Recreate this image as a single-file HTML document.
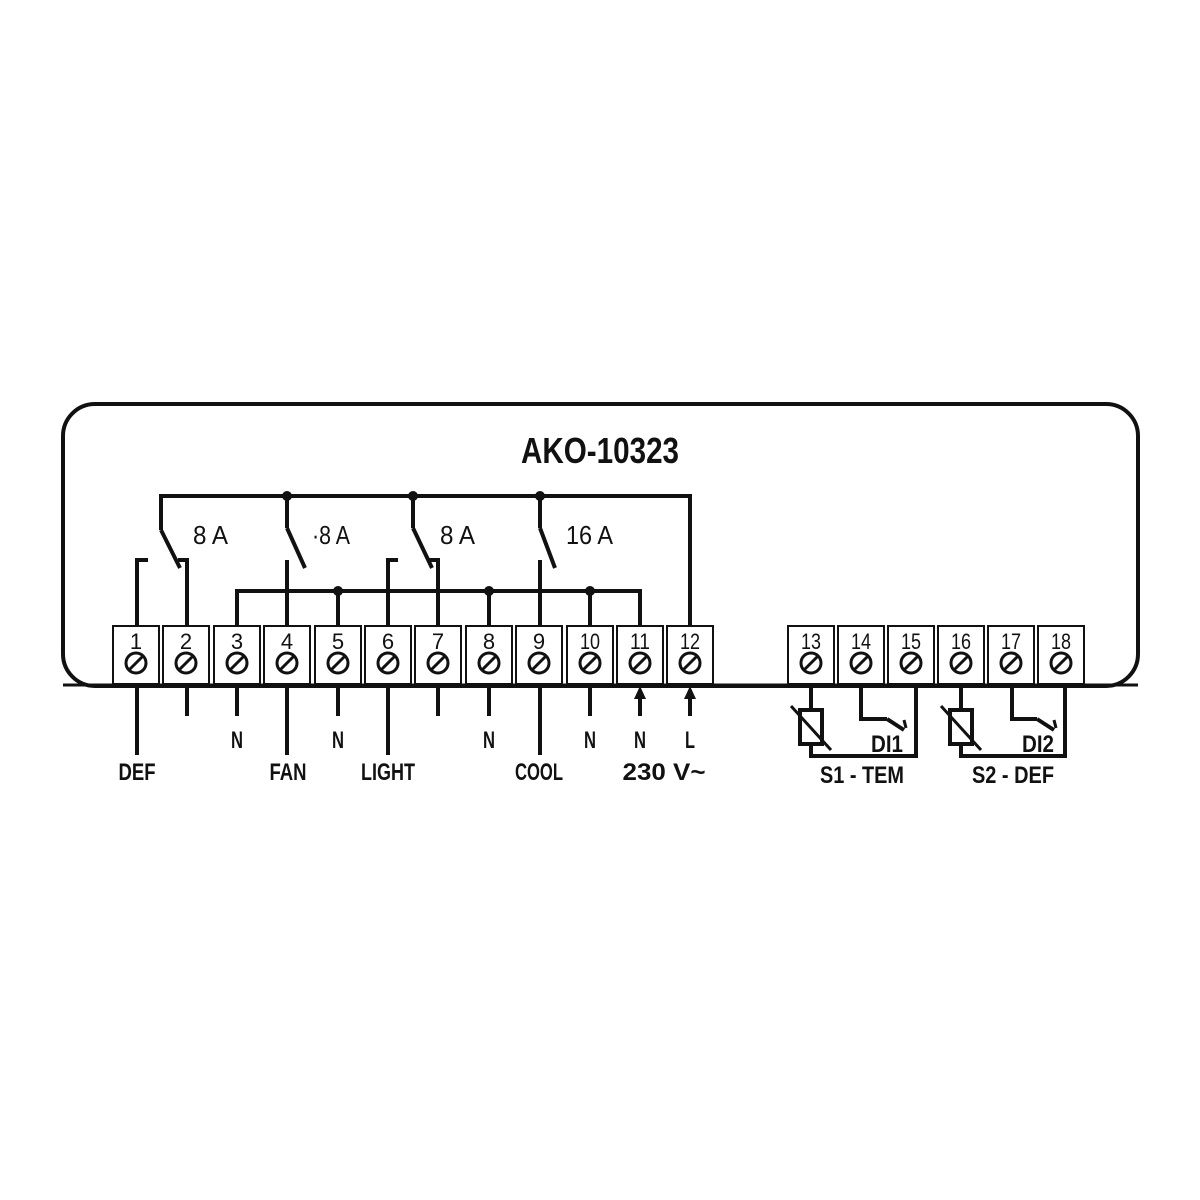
<!DOCTYPE html>
<html><head><style>body{margin:0;background:#fff}svg{display:block}
text{font-family:"Liberation Sans Narrow","Liberation Sans",sans-serif;font-weight:bold;fill:#111}
.t{font-weight:normal}
</style></head><body>
<svg width="1200" height="1200" viewBox="0 0 1200 1200" xmlns="http://www.w3.org/2000/svg">
<g stroke="#111" fill="none" stroke-width="4">
<rect x="63" y="404" width="1075" height="282" rx="32"/>
</g>
<text x="600" y="463" font-size="36" text-anchor="middle" textLength="158" lengthAdjust="spacingAndGlyphs">AKO-10323</text>
<g stroke="#111" stroke-width="2" fill="#fff">
<rect x="113" y="626" width="46" height="58"/><rect x="163" y="626" width="46" height="58"/><rect x="214" y="626" width="46" height="58"/><rect x="264" y="626" width="46" height="58"/><rect x="315" y="626" width="46" height="58"/><rect x="365" y="626" width="46" height="58"/><rect x="415" y="626" width="46" height="58"/><rect x="466" y="626" width="46" height="58"/><rect x="516" y="626" width="46" height="58"/><rect x="567" y="626" width="46" height="58"/><rect x="617" y="626" width="46" height="58"/><rect x="667" y="626" width="46" height="58"/>
<rect x="788" y="626" width="46" height="58"/><rect x="838" y="626" width="46" height="58"/><rect x="888" y="626" width="46" height="58"/><rect x="938" y="626" width="46" height="58"/><rect x="988" y="626" width="46" height="58"/><rect x="1038" y="626" width="46" height="58"/>
</g>
<g stroke="#111" stroke-width="3" fill="none">
<line x1="63" y1="685" x2="1138" y2="685"/>
</g>
<g stroke="#111" stroke-width="3" fill="none">
<circle cx="136" cy="663" r="10"/><line x1="129" y1="670" x2="143" y2="656"/>
<circle cx="186" cy="663" r="10"/><line x1="179" y1="670" x2="193" y2="656"/>
<circle cx="237" cy="663" r="10"/><line x1="230" y1="670" x2="244" y2="656"/>
<circle cx="287" cy="663" r="10"/><line x1="280" y1="670" x2="294" y2="656"/>
<circle cx="338" cy="663" r="10"/><line x1="331" y1="670" x2="345" y2="656"/>
<circle cx="388" cy="663" r="10"/><line x1="381" y1="670" x2="395" y2="656"/>
<circle cx="438" cy="663" r="10"/><line x1="431" y1="670" x2="445" y2="656"/>
<circle cx="489" cy="663" r="10"/><line x1="482" y1="670" x2="496" y2="656"/>
<circle cx="539" cy="663" r="10"/><line x1="532" y1="670" x2="546" y2="656"/>
<circle cx="590" cy="663" r="10"/><line x1="583" y1="670" x2="597" y2="656"/>
<circle cx="640" cy="663" r="10"/><line x1="633" y1="670" x2="647" y2="656"/>
<circle cx="690" cy="663" r="10"/><line x1="683" y1="670" x2="697" y2="656"/>
<circle cx="811" cy="663" r="10"/><line x1="804" y1="670" x2="818" y2="656"/>
<circle cx="861" cy="663" r="10"/><line x1="854" y1="670" x2="868" y2="656"/>
<circle cx="911" cy="663" r="10"/><line x1="904" y1="670" x2="918" y2="656"/>
<circle cx="961" cy="663" r="10"/><line x1="954" y1="670" x2="968" y2="656"/>
<circle cx="1011" cy="663" r="10"/><line x1="1004" y1="670" x2="1018" y2="656"/>
<circle cx="1061" cy="663" r="10"/><line x1="1054" y1="670" x2="1068" y2="656"/>
</g>
<g font-size="22" text-anchor="middle">
<text x="136" y="649" class="t">1</text><text x="186" y="649" class="t">2</text><text x="237" y="649" class="t">3</text><text x="287" y="649" class="t">4</text><text x="338" y="649" class="t">5</text><text x="388" y="649" class="t">6</text><text x="438" y="649" class="t">7</text><text x="489" y="649" class="t">8</text><text x="539" y="649" class="t">9</text>
<text x="590" y="649" class="t" textLength="20" lengthAdjust="spacingAndGlyphs">10</text><text x="640" y="649" class="t" textLength="20" lengthAdjust="spacingAndGlyphs">11</text><text x="690" y="649" class="t" textLength="20" lengthAdjust="spacingAndGlyphs">12</text>
<text x="811" y="649" class="t" textLength="20" lengthAdjust="spacingAndGlyphs">13</text><text x="861" y="649" class="t" textLength="20" lengthAdjust="spacingAndGlyphs">14</text><text x="911" y="649" class="t" textLength="20" lengthAdjust="spacingAndGlyphs">15</text><text x="961" y="649" class="t" textLength="20" lengthAdjust="spacingAndGlyphs">16</text><text x="1011" y="649" class="t" textLength="20" lengthAdjust="spacingAndGlyphs">17</text><text x="1061" y="649" class="t" textLength="20" lengthAdjust="spacingAndGlyphs">18</text>
</g>
<g stroke="#111" stroke-width="4" fill="none">
<polyline points="161,530 161,496 690,496 690,626"/>
<line x1="161" y1="530" x2="180" y2="568"/>
<line x1="287" y1="496" x2="287" y2="528"/><line x1="287" y1="528" x2="305" y2="568"/>
<line x1="413" y1="496" x2="413" y2="528"/><line x1="413" y1="528" x2="432" y2="568"/>
<line x1="540" y1="496" x2="540" y2="528"/><line x1="540" y1="528" x2="555" y2="568"/>
<polyline points="148,560 137,560 137,626"/>
<polyline points="178,560 187,560 187,626"/>
<line x1="287" y1="560" x2="287" y2="626"/>
<polyline points="398,560 388,560 388,626"/>
<polyline points="428,560 438,560 438,626"/>
<line x1="540" y1="560" x2="540" y2="626"/>
<polyline points="237,626 237,591 640,591 640,626"/>
<line x1="338" y1="591" x2="338" y2="626"/>
<line x1="489" y1="591" x2="489" y2="626"/>
<line x1="590" y1="591" x2="590" y2="626"/>
<line x1="137" y1="686" x2="137" y2="755"/>
<line x1="187" y1="686" x2="187" y2="716"/>
<line x1="237" y1="686" x2="237" y2="716"/>
<line x1="287" y1="686" x2="287" y2="755"/>
<line x1="338" y1="686" x2="338" y2="716"/>
<line x1="388" y1="686" x2="388" y2="755"/>
<line x1="438" y1="686" x2="438" y2="716"/>
<line x1="489" y1="686" x2="489" y2="716"/>
<line x1="540" y1="686" x2="540" y2="755"/>
<line x1="590" y1="686" x2="590" y2="716"/>
<line x1="640" y1="696" x2="640" y2="716"/>
<line x1="690" y1="696" x2="690" y2="716"/>
<line x1="811" y1="686" x2="811" y2="710"/>
<rect x="800" y="710" width="22" height="34"/>
<polyline points="811,744 811,756 916,756 916,686"/>
<polyline points="861,686 861,719 887,719"/>
<line x1="887" y1="719" x2="904" y2="730"/>
<line x1="961" y1="686" x2="961" y2="710"/>
<rect x="950" y="710" width="22" height="34"/>
<polyline points="961,744 961,756 1065,756 1065,686"/>
<polyline points="1012,686 1012,719 1037,719"/>
<line x1="1037" y1="719" x2="1054" y2="730"/>
</g>
<g stroke="#111" stroke-width="3">
<line x1="791" y1="706" x2="831" y2="750"/>
<line x1="941" y1="706" x2="981" y2="750"/>
<line x1="904" y1="720" x2="906" y2="728"/>
<line x1="1054" y1="720" x2="1056" y2="728"/>
</g>
<g fill="#111">
<circle cx="287" cy="496" r="5"/><circle cx="413" cy="496" r="5"/><circle cx="540" cy="496" r="5"/>
<circle cx="338" cy="591" r="5"/><circle cx="489" cy="591" r="5"/><circle cx="590" cy="591" r="5"/>
<polygon points="640,686 634,699 646,699"/><polygon points="690,686 684,699 696,699"/>
</g>
<g font-size="26">
<text x="193" y="544" class="t" textLength="35" lengthAdjust="spacingAndGlyphs">8 A</text><text x="312" y="544" class="t" textLength="38" lengthAdjust="spacingAndGlyphs">·8 A</text><text x="440" y="544" class="t" textLength="35" lengthAdjust="spacingAndGlyphs">8 A</text><text x="566" y="544" class="t" textLength="47" lengthAdjust="spacingAndGlyphs">16 A</text>
</g>
<g font-size="24" text-anchor="middle">
<text x="237" y="748" textLength="12" lengthAdjust="spacingAndGlyphs">N</text><text x="338" y="748" textLength="12" lengthAdjust="spacingAndGlyphs">N</text><text x="489" y="748" textLength="12" lengthAdjust="spacingAndGlyphs">N</text><text x="590" y="748" textLength="12" lengthAdjust="spacingAndGlyphs">N</text><text x="640" y="748" textLength="12" lengthAdjust="spacingAndGlyphs">N</text><text x="690" y="748" textLength="10" lengthAdjust="spacingAndGlyphs">L</text>
<text x="137" y="780" textLength="37" lengthAdjust="spacingAndGlyphs">DEF</text><text x="288" y="780" textLength="37" lengthAdjust="spacingAndGlyphs">FAN</text><text x="388" y="780" textLength="54" lengthAdjust="spacingAndGlyphs">LIGHT</text><text x="539" y="780" textLength="48" lengthAdjust="spacingAndGlyphs">COOL</text><text x="664" y="780" textLength="83" lengthAdjust="spacingAndGlyphs">230 V~</text>
<text x="887" y="752" textLength="32" lengthAdjust="spacingAndGlyphs">DI1</text><text x="1038" y="752" textLength="32" lengthAdjust="spacingAndGlyphs">DI2</text>
<text x="862" y="783" textLength="84" lengthAdjust="spacingAndGlyphs">S1 - TEM</text><text x="1013" y="783" textLength="82" lengthAdjust="spacingAndGlyphs">S2 - DEF</text>
</g>
</svg>
</body></html>
